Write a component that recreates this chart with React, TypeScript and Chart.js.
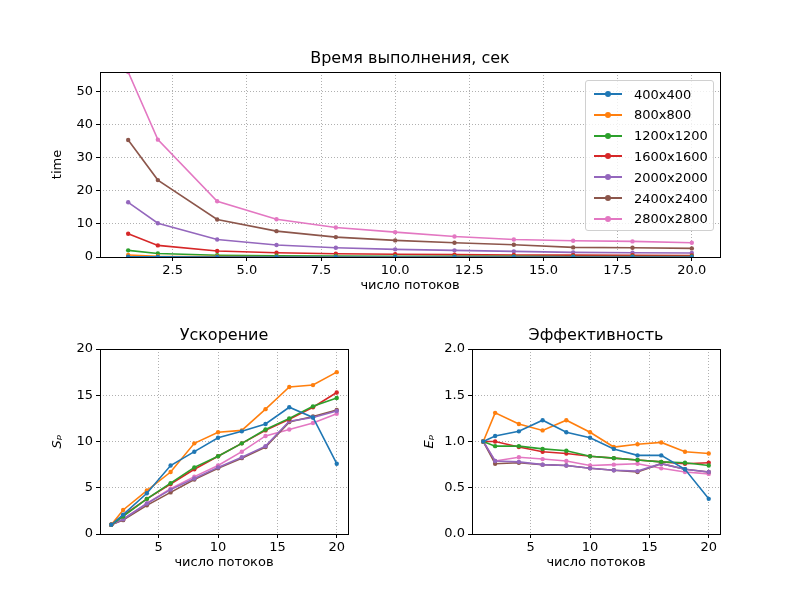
import React, { useEffect, useRef } from "react";
import { Chart, registerables } from "chart.js";
Chart.register(...registerables);

const threads = [1, 2, 4, 6, 8, 10, 12, 14, 16, 18, 20];
const sizes = ["400x400", "800x800", "1200x1200", "1600x1600", "2000x2000", "2400x2400", "2800x2800"];
const colors = ["#1f77b4", "#ff7f0e", "#2ca02c", "#d62728", "#9467bd", "#8c564b", "#e377c2"];

const time400 = [0.08, 0.04, 0.02, 0.012, 0.009, 0.008, 0.007, 0.007, 0.006, 0.006, 0.01];
const time800 = [0.6, 0.23, 0.13, 0.09, 0.06, 0.055, 0.054, 0.044, 0.038, 0.037, 0.034];
const time1200 = [2.0, 1.05, 0.53, 0.36, 0.28, 0.24, 0.2, 0.18, 0.16, 0.145, 0.136];
const time1600 = [7.0, 3.5, 1.8, 1.3, 1.0, 0.83, 0.71, 0.62, 0.56, 0.51, 0.46];
const time2000 = [16.5, 10.2, 5.3, 3.6, 2.8, 2.3, 2.0, 1.7, 1.4, 1.3, 1.2];
const time2400 = [35.3, 23.2, 11.3, 7.8, 6.0, 5.0, 4.3, 3.7, 2.9, 2.8, 2.6];
const time2800 = [55.8, 35.4, 16.8, 11.4, 8.9, 7.5, 6.2, 5.3, 4.9, 4.7, 4.3];

const sp400 = [1, 2.1, 4.4, 7.4, 8.9, 10.4, 11.1, 11.9, 13.7, 12.6, 7.6];
const sp800 = [1, 2.6, 4.7, 6.7, 9.8, 11.0, 11.2, 13.5, 15.9, 16.1, 17.5];
const sp1200 = [1, 1.9, 3.8, 5.5, 7.2, 8.4, 9.8, 11.3, 12.5, 13.8, 14.7];
const sp1600 = [1, 2.0, 3.8, 5.4, 7.0, 8.4, 9.8, 11.2, 12.4, 13.7, 15.3];
const sp2000 = [1, 1.6, 3.3, 4.8, 6.0, 7.2, 8.3, 9.5, 12.2, 12.6, 13.3];
const sp2400 = [1, 1.5, 3.1, 4.5, 5.9, 7.1, 8.2, 9.4, 12.1, 12.7, 13.4];
const sp2800 = [1, 1.6, 3.3, 4.9, 6.2, 7.4, 8.9, 10.6, 11.3, 12.0, 13.0];

const ef400 = [1, 1.06, 1.11, 1.23, 1.1, 1.04, 0.92, 0.85, 0.85, 0.7, 0.38];
const ef800 = [1, 1.31, 1.19, 1.12, 1.23, 1.1, 0.94, 0.97, 0.99, 0.89, 0.87];
const ef1200 = [1, 0.95, 0.95, 0.92, 0.9, 0.84, 0.82, 0.8, 0.78, 0.77, 0.74];
const ef1600 = [1, 1.0, 0.94, 0.89, 0.87, 0.84, 0.82, 0.8, 0.78, 0.76, 0.77];
const ef2000 = [1, 0.79, 0.78, 0.75, 0.74, 0.71, 0.69, 0.68, 0.76, 0.7, 0.67];
const ef2400 = [1, 0.76, 0.77, 0.75, 0.74, 0.71, 0.69, 0.67, 0.76, 0.7, 0.67];
const ef2800 = [1, 0.79, 0.83, 0.81, 0.79, 0.74, 0.75, 0.76, 0.71, 0.67, 0.65];

const timeSeries = [time400, time800, time1200, time1600, time2000, time2400, time2800];
const spSeries = [sp400, sp800, sp1200, sp1600, sp2000, sp2400, sp2800];
const efSeries = [ef400, ef800, ef1200, ef1600, ef2000, ef2400, ef2800];

const topXTicks = [2.5, 5, 7.5, 10, 12.5, 15, 17.5, 20];
const topYTicks = [0, 10, 20, 30, 40, 50];
const botXTicks = [5, 10, 15, 20];
const spYTicks = [0, 5, 10, 15, 20];
const efYTicks = [0, 0.5, 1, 1.5, 2];

const FONT = "'DejaVu Sans', sans-serif";

const boxPlugin = {
  id: "box",
  afterDraw(chart: any) {
    const { ctx, chartArea: a } = chart;
    ctx.save();
    ctx.strokeStyle = "#000";
    ctx.lineWidth = 1;
    ctx.strokeRect(Math.round(a.left) + 0.5, Math.round(a.top) + 0.5, Math.round(a.right - a.left), Math.round(a.bottom - a.top));
    ctx.restore();
  },
};

function makeConfig(series: number[][], area: { l: number; t: number; r: number; b: number }, yMax: number, xT: number[], yT: number[], yTitle: string, fmt: (v: number) => string) {
  const yW = 50;
  const xH = 36;
  return {
    type: "line",
    data: {
      datasets: series.map((s, i) => ({
        label: sizes[i],
        data: threads.map((x, j) => ({ x, y: s[j] })),
        borderColor: colors[i],
        backgroundColor: colors[i],
        borderWidth: 1.6,
        pointRadius: 2.2,
        pointBorderWidth: 0,
        tension: 0,
      })),
    },
    options: {
      animation: false,
      responsive: false,
      events: [],
      layout: { padding: { left: area.l - yW, top: area.t, right: 800 - area.r, bottom: 600 - area.b - xH } },
      plugins: { legend: { display: false }, title: { display: false }, tooltip: { enabled: false } },
      scales: {
        x: {
          type: "linear",
          min: 0.05,
          max: 20.95,
          afterBuildTicks: (s: any) => { s.ticks = xT.map((v) => ({ value: v })); },
          afterFit: (s: any) => { s.height = xH; },
          grid: { color: "#b0b0b0", borderDash: [1, 2], tickLength: 4, tickColor: "#000", tickBorderDash: [] },
          border: { display: false, dash: [1, 2] },
          ticks: { color: "#000", font: { family: FONT, size: 13 }, padding: 2, maxRotation: 0, callback: (v: number) => (xT.length > 4 ? v.toFixed(1) : String(v)) },
          title: { display: true, text: "число потоков", color: "#000", font: { family: FONT, size: 13 }, padding: { top: 0, bottom: 0 } },
        },
        y: {
          type: "linear",
          min: 0,
          max: yMax,
          afterBuildTicks: (s: any) => { s.ticks = yT.map((v) => ({ value: v })); },
          afterFit: (s: any) => { s.width = yW; },
          grid: { color: "#b0b0b0", tickLength: 4, tickColor: "#000", tickBorderDash: [] },
          border: { display: false, dash: [1, 2] },
          ticks: { color: "#000", font: { family: FONT, size: 13 }, padding: 3, callback: fmt },
          title: { display: true, text: yTitle, color: "#000", font: { family: FONT, size: 13, style: yTitle === "time" ? "normal" : "italic" }, padding: { top: 0, bottom: 2 } },
        },
      },
    },
    plugins: [boxPlugin],
  };
}

function Panel({ cfg }: { cfg: any }) {
  const ref = useRef<HTMLCanvasElement>(null);
  useEffect(() => {
    const c = new Chart(ref.current!, cfg);
    return () => c.destroy();
  }, []);
  return <canvas ref={ref} width={800} height={600} style={{ position: "absolute", left: 0, top: 0, pointerEvents: "none" }} />;
}

const titleStyle = (x: number, y: number): React.CSSProperties => ({
  position: "absolute", left: x, top: y, transform: "translateX(-50%)", fontFamily: FONT, fontSize: 16, color: "#000", whiteSpace: "nowrap",
});

export default function App() {
  const topCfg = makeConfig(timeSeries, { l: 100, t: 72, r: 720, b: 257 }, 55.8, topXTicks, topYTicks, "time", (v) => String(v));
  const spCfg = makeConfig(spSeries, { l: 100, t: 349, r: 348, b: 534 }, 20, botXTicks, spYTicks, "Sₚ", (v) => String(v));
  const efCfg = makeConfig(efSeries, { l: 472, t: 349, r: 720, b: 534 }, 2, botXTicks, efYTicks, "Eₚ", (v) => v.toFixed(1));
  return (
    <div style={{ position: "absolute", left: 0, top: 0, width: 800, height: 600, background: "#fff", overflow: "hidden" }}>
      <Panel cfg={topCfg} />
      <Panel cfg={spCfg} />
      <Panel cfg={efCfg} />
      <div style={titleStyle(410, 48)}>Время выполнения, сек</div>
      <div style={titleStyle(224, 325)}>Ускорение</div>
      <div style={titleStyle(596, 325)}>Эффективность</div>
      <div style={{ position: "absolute", left: 585, top: 80, width: 127, height: 149, border: "1px solid #d0d0d0", borderRadius: 3, background: "rgba(255,255,255,0.8)", fontFamily: FONT, fontSize: 13 }}>
        {sizes.map((s, i) => (
          <div key={s} style={{ position: "absolute", left: 8, top: 3 + i * 20.8, height: 20, display: "flex", alignItems: "center" }}>
            <div style={{ position: "relative", width: 28, height: 2, background: colors[i], marginRight: 12 }}>
              <div style={{ position: "absolute", left: 11, top: -2, width: 6, height: 6, borderRadius: 3, background: colors[i] }} />
            </div>
            <span>{s}</span>
          </div>
        ))}
      </div>
    </div>
  );
}
